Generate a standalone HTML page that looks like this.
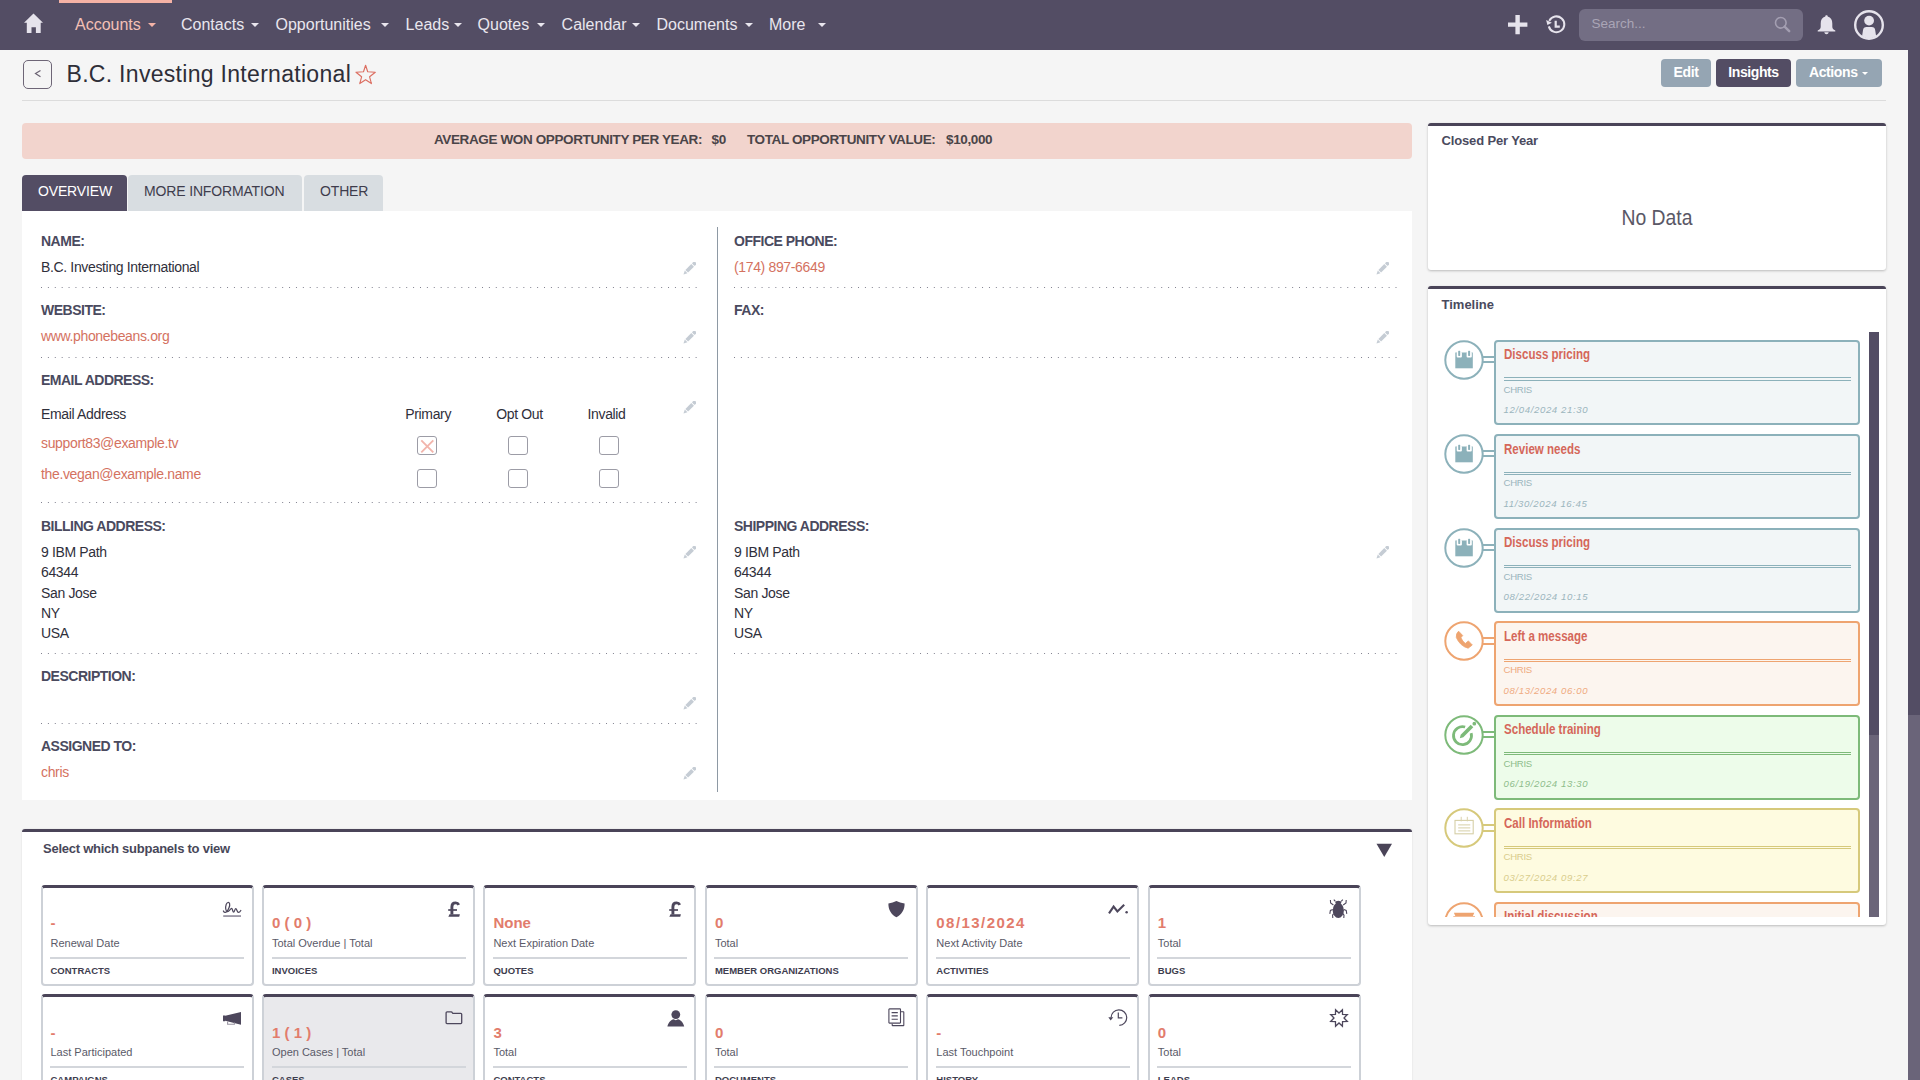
<!DOCTYPE html>
<html><head><meta charset="utf-8">
<style>
*{box-sizing:border-box;margin:0;padding:0}
html,body{width:1920px;height:1080px;overflow:hidden;background:#f5f5f5;font-family:"Liberation Sans",sans-serif;color:#333}
.a{position:absolute}
#nav{left:0;top:0;width:1920px;height:50px;background:#534d64}
.ni{position:absolute;top:15.5px;font-size:16px;color:#e9e6ee;white-space:nowrap;line-height:18px}
.car{position:absolute;top:23px;width:0;height:0;border-left:4px solid transparent;border-right:4px solid transparent;border-top:4px solid #e9e6ee}
#sb{position:absolute;left:1908px;top:0;width:12px;height:1080px;background:#6a6479}
#sbt{position:absolute;left:1908px;top:0;width:12px;height:715px;background:#534d64}
.btn{position:absolute;top:59px;height:28px;border-radius:4px;color:#fff;font-weight:bold;font-size:14px;letter-spacing:-0.4px;line-height:26px;text-align:center}
#hr{left:22px;top:100px;width:1864px;height:1px;background:#dcdcdc}
#stat{left:22px;top:123px;width:1390px;height:36px;background:#f2d4cd;border-radius:4px}
.st{position:absolute;top:9px;font-size:13.5px;letter-spacing:-0.38px;font-weight:bold;color:#4a4448;white-space:nowrap;line-height:16px}
.tab{position:absolute;top:175px;height:36px;border-radius:4px 4px 0 0;background:#d8dde1;color:#3e3c4c;font-size:14px;letter-spacing:-0.15px;line-height:16px;padding-top:8px;white-space:nowrap}
#panel{left:22px;top:211px;width:1390px;height:589px;background:#fff}
.lbl{position:absolute;font-size:14px;letter-spacing:-0.5px;font-weight:bold;color:#4a4a5e;white-space:nowrap;line-height:16px}
.val{position:absolute;font-size:14px;letter-spacing:-0.35px;color:#2f2f3b;white-space:nowrap;line-height:16px}
.lnk{color:#d4725f}
.dot{position:absolute;height:1px;background-image:linear-gradient(to right,#80808e 1px,transparent 1px);background-size:6.9px 1px;background-repeat:repeat-x}
.pen{position:absolute;width:13px;height:13px}
.cb{position:absolute;width:20px;height:19px;border:1px solid #9c9ca6;border-radius:3px;background:#fff}
.rp{position:absolute;background:#fff;border-top:3px solid #4a4458;border-radius:3px;box-shadow:0 1px 2.5px rgba(0,0,0,.24)}
.card{position:absolute;width:213px;height:101px;border:2px solid #cdd1d7;border-top:3px solid #4a4458;border-radius:4px;background:#fff}
.tlt{font-size:14px;font-weight:bold;color:#d5675a;white-space:nowrap;line-height:16px;transform:scaleX(.825);transform-origin:0 0}
.tlu{font-size:9.6px;letter-spacing:-0.3px;white-space:nowrap;line-height:14px}
.tld{font-size:9.6px;letter-spacing:0.62px;font-style:italic;white-space:nowrap;line-height:14px}
.cv{position:absolute;font-size:15px;font-weight:bold;color:#e27c6c;white-space:nowrap;line-height:18px}
.cs{position:absolute;font-size:11px;color:#5a5a68;white-space:nowrap;line-height:14px}
.cc{position:absolute;font-size:9.5px;font-weight:bold;color:#3e3d4e;white-space:nowrap;line-height:12px}
</style></head><body>
<div id="nav" class="a">
  <div class="a" style="left:59px;top:0;width:113px;height:3px;background:#f5b2a5"></div>
  <svg class="a" style="left:24px;top:13px" width="20" height="21" viewBox="0 0 20 21"><path d="M0 9.7 L9.5 0.4 L19 9.7 L16.7 9.7 L16.7 19.9 L11.9 19.9 L11.9 14.3 L7.5 14.3 L7.5 19.9 L2.8 19.9 L2.8 9.7 Z" fill="#e6e3ec"/></svg>
  <div class="ni" id="n1" style="left:75px;color:#f3c0b6">Accounts</div><div class="car" style="left:148px;border-top-color:#f3b3a7"></div>
  <div class="ni" id="n2" style="left:181px">Contacts</div><div class="car" style="left:251px"></div>
  <div class="ni" id="n3" style="left:275.5px">Opportunities</div><div class="car" style="left:381px"></div>
  <div class="ni" id="n4" style="left:405.6px">Leads</div><div class="car" style="left:453.6px"></div>
  <div class="ni" id="n5" style="left:477.6px">Quotes</div><div class="car" style="left:537px"></div>
  <div class="ni" id="n6" style="left:561.6px">Calendar</div><div class="car" style="left:632px"></div>
  <div class="ni" id="n7" style="left:656.5px">Documents</div><div class="car" style="left:745px"></div>
  <div class="ni" id="n8" style="left:769px">More</div><div class="car" style="left:818px"></div>
  <svg class="a" style="left:1508px;top:15px" width="20" height="20" viewBox="0 0 20 20"><path d="M7.4 0 H11.8 V7.4 H19.4 V11.8 H11.8 V19.2 H7.4 V11.8 H0 V7.4 H7.4 Z" fill="#e6e3ec"/></svg>
  <svg class="a" style="left:1540px;top:10px" width="32" height="30" viewBox="0 0 32 30"><path d="M8.81 16.38 A7.9 7.9 0 1 0 9.3 10.9" fill="none" stroke="#e6e3ec" stroke-width="2"/><path d="M6.1 10.1 L11.9 12.8 L7.4 15.1 Z" fill="#e6e3ec"/><path d="M15.7 10.8 V16.6 H19.8" fill="none" stroke="#e6e3ec" stroke-width="2.2"/></svg>
  <div class="a" id="search" style="left:1579px;top:9px;width:224px;height:32px;border-radius:6px;background:#736e84"></div>
  <div class="a" id="stxt" style="left:1591.5px;top:16px;font-size:13.5px;color:#aaa5b6;line-height:16px">Search...</div>
  <svg class="a" style="left:1774px;top:16px" width="18" height="18" viewBox="0 0 18 18"><circle cx="6.8" cy="6.8" r="5.3" fill="none" stroke="#a39eb1" stroke-width="1.6"/><path d="M10.6 10.6 L15.2 15.2" stroke="#a39eb1" stroke-width="2.4" stroke-linecap="round"/></svg>
  <svg class="a" style="left:1817px;top:15px" width="20" height="20" viewBox="0 0 20 20"><path d="M9.5 0.2 C10.3 0.2 10.7 0.8 10.7 1.4 C13.9 2.2 15.3 4.8 15.3 8.6 L15.3 11.5 C15.3 13.6 16.3 14.6 18.3 15.6 L18.3 16.4 L0.7 16.4 L0.7 15.6 C2.7 14.6 3.7 13.6 3.7 11.5 L3.7 8.6 C3.7 4.8 5.1 2.2 8.3 1.4 C8.3 0.8 8.7 0.2 9.5 0.2 Z M7.3 17.3 L11.7 17.3 C11.5 18.5 10.6 19.2 9.5 19.2 C8.4 19.2 7.5 18.5 7.3 17.3 Z" fill="#e6e3ec"/></svg>
  <svg class="a" style="left:1853px;top:9px" width="32" height="32" viewBox="0 0 32 32"><defs><clipPath id="uc"><circle cx="16" cy="16" r="13.2"/></clipPath></defs><circle cx="16" cy="16" r="13.8" fill="none" stroke="#e6e3ec" stroke-width="2.4"/><circle cx="16.1" cy="11.6" r="4.9" fill="#e6e3ec"/><path d="M8.3 32 L10 21.2 Q10.4 18.1 13.5 18.1 H18.7 Q21.8 18.1 22.2 21.2 L23.9 32 Z" fill="#e6e3ec" clip-path="url(#uc)"/></svg>
</div>
<div id="sb"></div><div id="sbt"></div>

<div class="a" id="back" style="left:23px;top:60px;width:29px;height:29px;border:1.3px solid #6e6677;border-radius:5px"></div>
<svg class="a" style="left:34px;top:69px" width="8" height="10" viewBox="0 0 8 10"><path d="M6.5 1.5 L1.5 4.6 L6.5 7.7" fill="none" stroke="#6a6272" stroke-width="1.2"/></svg>
<div class="a" id="title" style="left:66.5px;top:60.7px;letter-spacing:0.3px;font-size:23px;line-height:26px;color:#2e2e38;white-space:nowrap">B.C. Investing International</div>
<svg class="a" style="left:350px;top:64px" width="28" height="22" viewBox="0 0 28 22"><path d="M15.6 1.3 L17.7 7.7 L25.3 8.2 L19.6 12.8 L21.4 19.6 L15.6 15.7 L9.8 19.6 L11.6 12.8 L6 8.2 L13.5 7.7 Z" fill="none" stroke="#dc6f62" stroke-width="1.15" stroke-linejoin="round"/></svg>
<div class="btn" id="b1" style="left:1661px;width:50px;background:#95a5b3">Edit</div>
<div class="btn" id="b2" style="left:1716px;width:75px;background:#534d64">Insights</div>
<div class="btn" id="b3" style="left:1796px;width:86px;background:#95a5b3;text-align:left;padding-left:13px">Actions</div>
<div class="car" style="left:1862px;top:72px;border-left-width:3.5px;border-right-width:3.5px;border-top:3.5px solid #fff"></div>
<div id="hr" class="a"></div>
<div id="stat" class="a">
  <div class="st" id="s1" style="left:412px">AVERAGE WON OPPORTUNITY PER YEAR:</div>
  <div class="st" id="s2" style="left:689.5px">$0</div>
  <div class="st" id="s3" style="left:725px">TOTAL OPPORTUNITY VALUE:</div>
  <div class="st" id="s4" style="left:924px">$10,000</div>
</div>
<div class="tab" id="t1" style="left:22px;width:105px;background:#534d64;color:#fff;padding-left:16px">OVERVIEW</div>
<div class="tab" id="t2" style="left:128px;width:174px;padding-left:16px">MORE INFORMATION</div>
<div class="tab" id="t3" style="left:304px;width:79px;padding-left:16px">OTHER</div>
<!--PANEL--><div id="panel" class="a"></div>
<div class="a" style="left:717px;top:227px;width:1px;height:565px;background:#8e99a4"></div>
<div class="lbl" id=l1 style="left:41px;top:233.05px">NAME:</div>
<div class="val" id=v1 style="left:41px;top:259.15px">B.C. Investing International</div>
<svg class="pen" style="left:682.5px;top:261.8px" viewBox="0 0 13 13"><g transform="rotate(45 6.5 6.5)" fill="#c5ccd4"><rect x="4.6" y="-2.2" width="3.8" height="3.4" rx="0.8"/><rect x="4.6" y="2.1" width="3.8" height="8.3"/><path d="M4.6 11.3 H8.4 L6.5 15 Z"/></g></svg>
<div class="dot" style="left:41px;top:287px;width:660px"></div>
<div class="lbl" id=l2 style="left:41px;top:302.15px">WEBSITE:</div>
<div class="val" id=v2 style="left:41px;top:327.95px"><span class="lnk">www.phonebeans.org</span></div>
<svg class="pen" style="left:682.5px;top:331px" viewBox="0 0 13 13"><g transform="rotate(45 6.5 6.5)" fill="#c5ccd4"><rect x="4.6" y="-2.2" width="3.8" height="3.4" rx="0.8"/><rect x="4.6" y="2.1" width="3.8" height="8.3"/><path d="M4.6 11.3 H8.4 L6.5 15 Z"/></g></svg>
<div class="dot" style="left:41px;top:357px;width:660px"></div>
<div class="lbl" id=l3 style="left:41px;top:371.55px">EMAIL ADDRESS:</div>
<svg class="pen" style="left:682.5px;top:400.5px" viewBox="0 0 13 13"><g transform="rotate(45 6.5 6.5)" fill="#c5ccd4"><rect x="4.6" y="-2.2" width="3.8" height="3.4" rx="0.8"/><rect x="4.6" y="2.1" width="3.8" height="8.3"/><path d="M4.6 11.3 H8.4 L6.5 15 Z"/></g></svg>
<div class="val" id=eh1 style="left:41px;top:406.15px">Email Address</div>
<div class="val" id=eh2 style="left:405.3px;top:406.15px">Primary</div>
<div class="val" id=eh3 style="left:496.2px;top:406.15px">Opt Out</div>
<div class="val" id=eh4 style="left:587.5px;top:406.15px">Invalid</div>
<div class="val" id=e1 style="left:41px;top:434.85px"><span class="lnk">support83@example.tv</span></div>
<div class="val" id=e2 style="left:41px;top:466.45px"><span class="lnk">the.vegan@example.name</span></div>
<div class="cb" style="left:417px;top:436.3px"></div>
<div class="cb" style="left:417px;top:469px"></div>
<div class="cb" style="left:508px;top:436.3px"></div>
<div class="cb" style="left:508px;top:469px"></div>
<div class="cb" style="left:599.2px;top:436.3px"></div>
<div class="cb" style="left:599.2px;top:469px"></div>
<svg class="a" style="left:419.5px;top:439px" width="15" height="15" viewBox="0 0 15 15"><path d="M1.3 1.3 L13.3 13.3 M13.3 1.3 L1.3 13.3" stroke="#f2b5ac" stroke-width="1.9"/></svg>
<div class="dot" style="left:41px;top:502px;width:660px"></div>
<div class="lbl" id=l4 style="left:41px;top:518.15px">BILLING ADDRESS:</div>
<svg class="pen" style="left:682.5px;top:546.3px" viewBox="0 0 13 13"><g transform="rotate(45 6.5 6.5)" fill="#c5ccd4"><rect x="4.6" y="-2.2" width="3.8" height="3.4" rx="0.8"/><rect x="4.6" y="2.1" width="3.8" height="8.3"/><path d="M4.6 11.3 H8.4 L6.5 15 Z"/></g></svg>
<div class="val" id=ba0 style="left:41px;top:544.05px">9 IBM Path</div>
<div class="val" id=sa0 style="left:734px;top:544.05px">9 IBM Path</div>
<div class="val" id=ba1 style="left:41px;top:564.05px">64344</div>
<div class="val" id=sa1 style="left:734px;top:564.05px">64344</div>
<div class="val" id=ba2 style="left:41px;top:584.75px">San Jose</div>
<div class="val" id=sa2 style="left:734px;top:584.75px">San Jose</div>
<div class="val" id=ba3 style="left:41px;top:604.95px">NY</div>
<div class="val" id=sa3 style="left:734px;top:604.95px">NY</div>
<div class="val" id=ba4 style="left:41px;top:624.75px">USA</div>
<div class="val" id=sa4 style="left:734px;top:624.75px">USA</div>
<div class="dot" style="left:41px;top:653px;width:660px"></div>
<div class="lbl" id=l5 style="left:41px;top:667.95px">DESCRIPTION:</div>
<svg class="pen" style="left:682.5px;top:697px" viewBox="0 0 13 13"><g transform="rotate(45 6.5 6.5)" fill="#c5ccd4"><rect x="4.6" y="-2.2" width="3.8" height="3.4" rx="0.8"/><rect x="4.6" y="2.1" width="3.8" height="8.3"/><path d="M4.6 11.3 H8.4 L6.5 15 Z"/></g></svg>
<div class="dot" style="left:41px;top:723px;width:660px"></div>
<div class="lbl" id=l6 style="left:41px;top:738.15px">ASSIGNED TO:</div>
<div class="val" id=v6 style="left:41px;top:763.85px"><span class="lnk">chris</span></div>
<svg class="pen" style="left:682.5px;top:766.5px" viewBox="0 0 13 13"><g transform="rotate(45 6.5 6.5)" fill="#c5ccd4"><rect x="4.6" y="-2.2" width="3.8" height="3.4" rx="0.8"/><rect x="4.6" y="2.1" width="3.8" height="8.3"/><path d="M4.6 11.3 H8.4 L6.5 15 Z"/></g></svg>
<div class="lbl" id=r1 style="left:734px;top:233.05px">OFFICE PHONE:</div>
<div class="val" id=rv1 style="left:734px;top:259.15px"><span class="lnk">(174) 897-6649</span></div>
<svg class="pen" style="left:1375.5px;top:261.8px" viewBox="0 0 13 13"><g transform="rotate(45 6.5 6.5)" fill="#c5ccd4"><rect x="4.6" y="-2.2" width="3.8" height="3.4" rx="0.8"/><rect x="4.6" y="2.1" width="3.8" height="8.3"/><path d="M4.6 11.3 H8.4 L6.5 15 Z"/></g></svg>
<div class="dot" style="left:734px;top:287px;width:663px"></div>
<div class="lbl" id=r2 style="left:734px;top:302.15px">FAX:</div>
<svg class="pen" style="left:1375.5px;top:331px" viewBox="0 0 13 13"><g transform="rotate(45 6.5 6.5)" fill="#c5ccd4"><rect x="4.6" y="-2.2" width="3.8" height="3.4" rx="0.8"/><rect x="4.6" y="2.1" width="3.8" height="8.3"/><path d="M4.6 11.3 H8.4 L6.5 15 Z"/></g></svg>
<div class="dot" style="left:734px;top:357px;width:663px"></div>
<div class="lbl" id=r4 style="left:734px;top:518.15px">SHIPPING ADDRESS:</div>
<svg class="pen" style="left:1375.5px;top:546.3px" viewBox="0 0 13 13"><g transform="rotate(45 6.5 6.5)" fill="#c5ccd4"><rect x="4.6" y="-2.2" width="3.8" height="3.4" rx="0.8"/><rect x="4.6" y="2.1" width="3.8" height="8.3"/><path d="M4.6 11.3 H8.4 L6.5 15 Z"/></g></svg>
<div class="dot" style="left:734px;top:653px;width:663px"></div>
<!--/PANEL-->
<!--SUB-->
<div class="a" style="left:22px;top:829px;width:1390px;height:260px;background:#fff;border-top:3px solid #4a4458;border-radius:3px;box-shadow:0 0 2px rgba(0,0,0,.12)"></div>
<div class="lbl" id="swv" style="left:43px;top:841.4px;font-size:13px;letter-spacing:-0.25px;color:#484759">Select which subpanels to view</div>
<svg class="a" style="left:1376px;top:843px" width="17" height="14" viewBox="0 0 17 14"><path d="M0.5 0.8 H16 L8.25 14 Z" fill="#4a4458"/></svg>
<div class="card" style="left:40.50px;top:885.00px;background:#fff"></div>
<div class="cv" style="left:50.50px;top:914.40px">-</div>
<div class="cs" style="left:50.50px;top:936.19px">Renewal Date</div>
<div class="a" style="left:50.10px;top:957.00px;width:194px;height:2px;background:#d3d6db"></div>
<div class="cc" style="left:50.50px;top:964.71px">CONTRACTS</div>
<svg class="a" style="left:222px;top:900px" width="21" height="18" viewBox="0 0 21 18"><path d="M1.4 11 C2 12.6 3.6 12.8 4.6 11.8 C6.4 10 8.2 5.8 7.6 3.6 C7 1.8 5 2.2 4.2 4.4 C3.2 7.4 3.6 11.2 5.4 11.6 C7 12 8.4 8.4 9.6 8.3 C10.6 8.3 10.6 12.2 11.6 12.2 C12.6 12.2 12.8 8.5 13.8 8.5 C14.8 8.5 15 12.4 16.4 12.4 C17.6 12.4 18.4 11.2 18.8 10.5" fill="none" stroke="#4d475c" stroke-width="1.25" stroke-linecap="round"/><rect x="1.2" y="15.3" width="17.8" height="1.5" fill="#858192"/></svg>
<div class="card" style="left:261.96px;top:885.00px;background:#fff"></div>
<div class="cv" style="left:271.96px;top:914.40px">0 ( 0 )</div>
<div class="cs" style="left:271.96px;top:936.19px">Total Overdue | Total</div>
<div class="a" style="left:271.56px;top:957.00px;width:194px;height:2px;background:#d3d6db"></div>
<div class="cc" style="left:271.96px;top:964.71px">INVOICES</div>
<svg class="a" style="left:446.53999999999996px;top:900px" width="15" height="18" viewBox="0 0 15 18"><path d="M4.9 14.6 V6.8 C4.9 3.9 6.5 2.9 8.6 2.9 C10.2 2.9 11.2 3.6 11.8 4.8" stroke="#4d475c" stroke-width="2.9" fill="none"/><path d="M1.2 10 H10" stroke="#4d475c" stroke-width="1.7"/><path d="M1.3 16.7 L2.5 14.2 H12.9 L12.2 16.7 Z" fill="#4d475c"/></svg>
<div class="card" style="left:483.42px;top:885.00px;background:#fff"></div>
<div class="cv" style="left:493.42px;top:914.40px">None</div>
<div class="cs" style="left:493.42px;top:936.19px">Next Expiration Date</div>
<div class="a" style="left:493.02px;top:957.00px;width:194px;height:2px;background:#d3d6db"></div>
<div class="cc" style="left:493.42px;top:964.71px">QUOTES</div>
<svg class="a" style="left:668px;top:900px" width="15" height="18" viewBox="0 0 15 18"><path d="M4.9 14.6 V6.8 C4.9 3.9 6.5 2.9 8.6 2.9 C10.2 2.9 11.2 3.6 11.8 4.8" stroke="#4d475c" stroke-width="2.9" fill="none"/><path d="M1.2 10 H10" stroke="#4d475c" stroke-width="1.7"/><path d="M1.3 16.7 L2.5 14.2 H12.9 L12.2 16.7 Z" fill="#4d475c"/></svg>
<div class="card" style="left:704.88px;top:885.00px;background:#fff"></div>
<div class="cv" style="left:714.88px;top:914.40px">0</div>
<div class="cs" style="left:714.88px;top:936.19px">Total</div>
<div class="a" style="left:714.48px;top:957.00px;width:194px;height:2px;background:#d3d6db"></div>
<div class="cc" style="left:714.88px;top:964.71px">MEMBER ORGANIZATIONS</div>
<svg class="a" style="left:887.8px;top:901px" width="18" height="17" viewBox="0 0 18 17"><path d="M0.4 2.4 C3.4 2 6 1.2 8.4 0.1 C10.8 1.2 13.4 2 16.6 2.4 C16.8 9 13.4 13.4 8.4 16.3 C3.4 13.4 0.2 9 0.4 2.4 Z" fill="#4d475c"/></svg>
<div class="card" style="left:926.34px;top:885.00px;background:#fff"></div>
<div class="cv" style="left:936.34px;top:914.40px;letter-spacing:1.45px">08/13/2024</div>
<div class="cs" style="left:936.34px;top:936.19px">Next Activity Date</div>
<div class="a" style="left:935.94px;top:957.00px;width:194px;height:2px;background:#d3d6db"></div>
<div class="cc" style="left:936.34px;top:964.71px">ACTIVITIES</div>
<svg class="a" style="left:1108px;top:903.6px" width="21" height="11" viewBox="0 0 21 11"><path d="M1 9.4 L5.6 2.6 L9.4 7.4 L16.2 0.8" fill="none" stroke="#4d475c" stroke-width="2.1" stroke-linejoin="miter"/><circle cx="18.6" cy="8.2" r="1.25" fill="#4d475c"/></svg>
<div class="card" style="left:1147.80px;top:885.00px;background:#fff"></div>
<div class="cv" style="left:1157.80px;top:914.40px">1</div>
<div class="cs" style="left:1157.80px;top:936.19px">Total</div>
<div class="a" style="left:1157.40px;top:957.00px;width:194px;height:2px;background:#d3d6db"></div>
<div class="cc" style="left:1157.80px;top:964.71px">BUGS</div>
<svg class="a" style="left:1329.3px;top:899px" width="19" height="20" viewBox="0 0 19 20"><ellipse cx="9.3" cy="11.4" rx="5.6" ry="7.6" fill="#4d475c"/><ellipse cx="9.3" cy="3.6" rx="3" ry="1.8" fill="#4d475c"/><path d="M6.4 2.4 L4.8 0.6 M12.2 2.4 L13.8 0.6 M4.4 6 L1.6 4 L1.4 1 M14.2 6 L17 4 L17.2 1 M3.8 10.4 L1.4 11.4 L0.8 14.8 M14.8 10.4 L17.2 11.4 L17.8 14.8 M4.6 14.6 L3.6 16.2 L3.8 19 M14 14.6 L15 16.2 L14.8 19" fill="none" stroke="#4d475c" stroke-width="1.1"/></svg>
<div class="card" style="left:40.50px;top:994.30px;background:#fff"></div>
<div class="cv" style="left:50.50px;top:1023.70px">-</div>
<div class="cs" style="left:50.50px;top:1045.49px">Last Participated</div>
<div class="a" style="left:50.10px;top:1066.30px;width:194px;height:2px;background:#d3d6db"></div>
<div class="cc" style="left:50.50px;top:1074.01px">CAMPAIGNS</div>
<svg class="a" style="left:223px;top:1011.6px" width="19" height="14" viewBox="0 0 19 14"><path d="M0 3.4 H2.2 V3.8 L18 0 V12.8 L2.2 8.8 V9.2 H0 Z" fill="#4d475c"/><path d="M4.6 9.4 V12.2 H11.4 V10.6" fill="none" stroke="#9a96a4" stroke-width="1.1"/></svg>
<div class="card" style="left:261.96px;top:994.30px;background:#e9e9ec"></div>
<div class="cv" style="left:271.96px;top:1023.70px">1 ( 1 )</div>
<div class="cs" style="left:271.96px;top:1045.49px">Open Cases | Total</div>
<div class="a" style="left:271.56px;top:1066.30px;width:194px;height:2px;background:#d3d6db"></div>
<div class="cc" style="left:271.96px;top:1074.01px">CASES</div>
<svg class="a" style="left:445.4px;top:1011px" width="18" height="14" viewBox="0 0 18 14"><path d="M1.1 1.8 Q1.1 0.8 2.1 0.8 H6.2 Q6.9 0.8 7.3 1.6 L7.8 2.3 H15.8 Q16.7 2.3 16.7 3.2 V11.8 Q16.7 12.6 15.8 12.6 H2 Q1.1 12.6 1.1 11.8 Z" fill="none" stroke="#4d475c" stroke-width="1.3"/></svg>
<div class="card" style="left:483.42px;top:994.30px;background:#fff"></div>
<div class="cv" style="left:493.42px;top:1023.70px">3</div>
<div class="cs" style="left:493.42px;top:1045.49px">Total</div>
<div class="a" style="left:493.02px;top:1066.30px;width:194px;height:2px;background:#d3d6db"></div>
<div class="cc" style="left:493.42px;top:1074.01px">CONTACTS</div>
<svg class="a" style="left:666.9px;top:1009.6px" width="18" height="18" viewBox="0 0 18 18"><circle cx="8.8" cy="4.6" r="4.4" fill="#4d475c"/><path d="M0.4 16.4 C1.4 12.4 4 9.6 6.6 9.2 L8.8 10.2 L11 9.2 C13.6 9.6 16.2 12.4 17.2 16.4 Z" fill="#4d475c"/></svg>
<div class="card" style="left:704.88px;top:994.30px;background:#fff"></div>
<div class="cv" style="left:714.88px;top:1023.70px">0</div>
<div class="cs" style="left:714.88px;top:1045.49px">Total</div>
<div class="a" style="left:714.48px;top:1066.30px;width:194px;height:2px;background:#d3d6db"></div>
<div class="cc" style="left:714.88px;top:1074.01px">DOCUMENTS</div>
<svg class="a" style="left:887.6px;top:1008.4px" width="18" height="19" viewBox="0 0 18 19"><path d="M12.8 3.8 H15.4 Q15.8 3.8 15.8 4.2 V17.2 Q15.8 17.6 15.4 17.6 H4.6 Q4.2 17.6 4.2 17.2 V15.8" fill="none" stroke="#4d475c" stroke-width="1.1"/><rect x="0.9" y="0.9" width="11.6" height="14.2" rx="0.6" fill="none" stroke="#4d475c" stroke-width="1.1"/><path d="M3.6 4.6 H9.8 M3.6 7.9 H9.8 M3.6 11.2 H9.8" stroke="#4d475c" stroke-width="1.1"/></svg>
<div class="card" style="left:926.34px;top:994.30px;background:#fff"></div>
<div class="cv" style="left:936.34px;top:1023.70px">-</div>
<div class="cs" style="left:936.34px;top:1045.49px">Last Touchpoint</div>
<div class="a" style="left:935.94px;top:1066.30px;width:194px;height:2px;background:#d3d6db"></div>
<div class="cc" style="left:936.34px;top:1074.01px">HISTORY</div>
<svg class="a" style="left:1108px;top:1008.6px" width="21" height="19" viewBox="0 0 21 19"><path d="M3.1 8.6 A7.8 7.8 0 1 1 11.3 16.4" fill="none" stroke="#4d475c" stroke-width="1.2"/><path d="M0.3 8.3 H5.3 L2.7 11.4 Z" fill="#4d475c"/><path d="M10.3 3.6 V8.8 H14.4" fill="none" stroke="#4d475c" stroke-width="1.2"/></svg>
<div class="card" style="left:1147.80px;top:994.30px;background:#fff"></div>
<div class="cv" style="left:1157.80px;top:1023.70px">0</div>
<div class="cs" style="left:1157.80px;top:1045.49px">Total</div>
<div class="a" style="left:1157.40px;top:1066.30px;width:194px;height:2px;background:#d3d6db"></div>
<div class="cc" style="left:1157.80px;top:1074.01px">LEADS</div>
<svg class="a" style="left:1329.4px;top:1008px" width="20" height="20" viewBox="-10 -10 20 20"><path d="M0.00 -5.00 L3.44 -8.31 L3.54 -3.54 L8.31 -3.44 L5.00 0.00 L8.31 3.44 L3.54 3.54 L3.44 8.31 L0.00 5.00 L-3.44 8.31 L-3.54 3.54 L-8.31 3.44 L-5.00 0.00 L-8.31 -3.44 L-3.54 -3.54 L-3.44 -8.31 Z" fill="none" stroke="#4d475c" stroke-width="1.3" stroke-linejoin="miter"/></svg>
<!--/SUB-->
<!--RIGHT-->
<div class="rp" style="left:1428px;top:123px;width:458px;height:147px"></div>
<div class="lbl" id="cpy" style="left:1441.5px;top:133.3px;font-size:13px;letter-spacing:-0.15px;color:#4a4a5e">Closed Per Year</div>
<div class="a" id="nodata" style="left:1428px;width:458px;text-align:center;top:205.05px;font-size:21.5px;line-height:26px;color:#5a5866;transform:scaleX(.9)">No Data</div>
<div class="rp" style="left:1428px;top:286px;width:458px;height:639px"></div>
<div class="lbl" id="tl" style="left:1441.5px;top:296.9px;font-size:13px;letter-spacing:0;color:#4a4a5e">Timeline</div>
<div class="a" style="left:1430px;top:332px;width:454px;height:585px;overflow:hidden">
<svg class="a" style="left:14px;top:8.0px" width="41" height="41" viewBox="0 0 41 41"><circle cx="20" cy="20" r="18.7" fill="#fff" stroke="#8cb1ba" stroke-width="2"/><rect x="11.3" y="12.5" width="17.5" height="15.8" fill="#8cb1ba"/><rect x="12.7" y="12" width="5.2" height="5.4" rx="1" fill="#fff"/><rect x="22.6" y="12" width="5.2" height="5.4" rx="1" fill="#fff"/><rect x="14.2" y="10.8" width="2" height="5.1" rx="0.6" fill="#8cb1ba"/><rect x="24.1" y="10.8" width="2" height="5.1" rx="0.6" fill="#8cb1ba"/></svg>
<div class="a" style="left:53px;top:23.8px;width:12px;height:7.4px;border-top:2px solid #8cb1ba;border-bottom:2px solid #8cb1ba"></div>
<div class="a" style="left:64.40000000000009px;top:8.0px;width:366px;height:85px;border:2px solid #8cb1ba;border-radius:4px;background:#f2f6f7"></div>
<div class="a" style="left:73.79999999999995px;top:45.40px;width:347px;height:3.2px;border-top:1.1px solid #8cb1ba;border-bottom:1.1px solid #8cb1ba"></div>
<div class="a tlt" style="left:73.59999999999991px;top:14.350000000000023px">Discuss pricing</div>
<div class="a tlu" style="left:73.59999999999991px;top:51px;color:#9bb5bd">CHRIS</div>
<div class="a tld" style="left:73.59999999999991px;top:71px;color:#9bb5bd">12/04/2024 21:30</div>
<svg class="a" style="left:14px;top:102.19999999999999px" width="41" height="41" viewBox="0 0 41 41"><circle cx="20" cy="20" r="18.7" fill="#fff" stroke="#8cb1ba" stroke-width="2"/><rect x="11.3" y="12.5" width="17.5" height="15.8" fill="#8cb1ba"/><rect x="12.7" y="12" width="5.2" height="5.4" rx="1" fill="#fff"/><rect x="22.6" y="12" width="5.2" height="5.4" rx="1" fill="#fff"/><rect x="14.2" y="10.8" width="2" height="5.1" rx="0.6" fill="#8cb1ba"/><rect x="24.1" y="10.8" width="2" height="5.1" rx="0.6" fill="#8cb1ba"/></svg>
<div class="a" style="left:53px;top:117.99999999999999px;width:12px;height:7.4px;border-top:2px solid #8cb1ba;border-bottom:2px solid #8cb1ba"></div>
<div class="a" style="left:64.40000000000009px;top:102.19999999999999px;width:366px;height:85px;border:2px solid #8cb1ba;border-radius:4px;background:#f2f6f7"></div>
<div class="a" style="left:73.79999999999995px;top:139.60px;width:347px;height:3.2px;border-top:1.1px solid #8cb1ba;border-bottom:1.1px solid #8cb1ba"></div>
<div class="a tlt" style="left:73.59999999999991px;top:108.55000000000001px">Review needs</div>
<div class="a tlu" style="left:73.59999999999991px;top:144px;color:#9bb5bd">CHRIS</div>
<div class="a tld" style="left:73.59999999999991px;top:165px;color:#9bb5bd">11/30/2024 16:45</div>
<svg class="a" style="left:14px;top:195.79999999999995px" width="41" height="41" viewBox="0 0 41 41"><circle cx="20" cy="20" r="18.7" fill="#fff" stroke="#8cb1ba" stroke-width="2"/><rect x="11.3" y="12.5" width="17.5" height="15.8" fill="#8cb1ba"/><rect x="12.7" y="12" width="5.2" height="5.4" rx="1" fill="#fff"/><rect x="22.6" y="12" width="5.2" height="5.4" rx="1" fill="#fff"/><rect x="14.2" y="10.8" width="2" height="5.1" rx="0.6" fill="#8cb1ba"/><rect x="24.1" y="10.8" width="2" height="5.1" rx="0.6" fill="#8cb1ba"/></svg>
<div class="a" style="left:53px;top:211.59999999999997px;width:12px;height:7.4px;border-top:2px solid #8cb1ba;border-bottom:2px solid #8cb1ba"></div>
<div class="a" style="left:64.40000000000009px;top:195.79999999999995px;width:366px;height:85px;border:2px solid #8cb1ba;border-radius:4px;background:#f2f6f7"></div>
<div class="a" style="left:73.79999999999995px;top:233.20px;width:347px;height:3.2px;border-top:1.1px solid #8cb1ba;border-bottom:1.1px solid #8cb1ba"></div>
<div class="a tlt" style="left:73.59999999999991px;top:202.14999999999998px">Discuss pricing</div>
<div class="a tlu" style="left:73.59999999999991px;top:238px;color:#9bb5bd">CHRIS</div>
<div class="a tld" style="left:73.59999999999991px;top:258px;color:#9bb5bd">08/22/2024 10:15</div>
<svg class="a" style="left:14px;top:289.4px" width="41" height="41" viewBox="0 0 41 41"><circle cx="20" cy="20" r="18.7" fill="#fff" stroke="#eea470" stroke-width="2"/><path d="M14.6 10.2 L18.7 14.5 L16.9 16.8 Q18.6 20.4 21.3 22.5 L24.4 19.9 L28.3 24 L24.1 27.2 Q16 25 12.3 16.5 Q11.8 12.5 14.6 10.2 Z" fill="#eea470" stroke="#eea470" stroke-width="0.8" stroke-linejoin="round"/></svg>
<div class="a" style="left:53px;top:305.2px;width:12px;height:7.4px;border-top:2px solid #eea470;border-bottom:2px solid #eea470"></div>
<div class="a" style="left:64.40000000000009px;top:289.4px;width:366px;height:85px;border:2px solid #eea470;border-radius:4px;background:#fcf5ef"></div>
<div class="a" style="left:73.79999999999995px;top:326.80px;width:347px;height:3.2px;border-top:1.1px solid #eea470;border-bottom:1.1px solid #eea470"></div>
<div class="a tlt" style="left:73.59999999999991px;top:295.75px">Left a message</div>
<div class="a tlu" style="left:73.59999999999991px;top:331px;color:#efaa80">CHRIS</div>
<div class="a tld" style="left:73.59999999999991px;top:352px;color:#efaa80">08/13/2024 06:00</div>
<svg class="a" style="left:14px;top:382.79999999999995px" width="41" height="41" viewBox="0 0 41 41"><circle cx="20" cy="20" r="18.7" fill="#fff" stroke="#7dba79" stroke-width="2"/><path d="M21.13 11.99 A9 9 0 1 0 27.15 18.12" fill="none" stroke="#7dba79" stroke-width="2.8"/><path d="M15.8 23.2 L16.66 19.66 L26.66 9.66 L29.34 12.34 L19.34 22.34 Z" fill="#7dba79"/><circle cx="30.3" cy="8.7" r="1.85" fill="#7dba79"/></svg>
<div class="a" style="left:53px;top:398.59999999999997px;width:12px;height:7.4px;border-top:2px solid #7dba79;border-bottom:2px solid #7dba79"></div>
<div class="a" style="left:64.40000000000009px;top:382.79999999999995px;width:366px;height:85px;border:2px solid #7dba79;border-radius:4px;background:#edfcea"></div>
<div class="a" style="left:73.79999999999995px;top:420.20px;width:347px;height:3.2px;border-top:1.1px solid #7dba79;border-bottom:1.1px solid #7dba79"></div>
<div class="a tlt" style="left:73.59999999999991px;top:389.15px">Schedule training</div>
<div class="a tlu" style="left:73.59999999999991px;top:425px;color:#8dbd8a">CHRIS</div>
<div class="a tld" style="left:73.59999999999991px;top:445px;color:#8dbd8a">06/19/2024 13:30</div>
<svg class="a" style="left:14px;top:476.4px" width="41" height="41" viewBox="0 0 41 41"><circle cx="20" cy="20" r="18.7" fill="#fff" stroke="#d6c97b" stroke-width="2"/><rect x="11" y="12.4" width="18.2" height="13.4" fill="none" stroke="#d6cfa6" stroke-width="1.1"/><path d="M14.2 16.9 H26.3 M14.2 19.9 H26.3 M14.2 22.9 H26.3" stroke="#d6cfa6" stroke-width="1"/><path d="M17.2 8.8 V13.4 M23.3 8.8 V13.4" stroke="#d9d0ac" stroke-width="1"/></svg>
<div class="a" style="left:53px;top:492.2px;width:12px;height:7.4px;border-top:2px solid #d6c97b;border-bottom:2px solid #d6c97b"></div>
<div class="a" style="left:64.40000000000009px;top:476.4px;width:366px;height:85px;border:2px solid #d6c97b;border-radius:4px;background:#fefbe0"></div>
<div class="a" style="left:73.79999999999995px;top:513.80px;width:347px;height:3.2px;border-top:1.1px solid #d6c97b;border-bottom:1.1px solid #d6c97b"></div>
<div class="a tlt" style="left:73.59999999999991px;top:482.75px">Call Information</div>
<div class="a tlu" style="left:73.59999999999991px;top:518px;color:#d9cd8c">CHRIS</div>
<div class="a tld" style="left:73.59999999999991px;top:539px;color:#d9cd8c">03/27/2024 09:27</div>
<svg class="a" style="left:14px;top:569.6px" width="41" height="41" viewBox="0 0 41 41"><circle cx="20" cy="20" r="18.7" fill="#fff" stroke="#eea470" stroke-width="2"/><path d="M9.9 10.7 H30.3 L28.9 14 H11.3 Z" fill="#eea470"/><rect x="10" y="15" width="20.3" height="12" fill="none" stroke="#eea470" stroke-width="1.4"/></svg>
<div class="a" style="left:53px;top:585.4px;width:12px;height:7.4px;border-top:2px solid #eea470;border-bottom:2px solid #eea470"></div>
<div class="a" style="left:64.40000000000009px;top:569.6px;width:366px;height:85px;border:2px solid #eea470;border-radius:4px;background:#fcf5ef"></div>
<div class="a" style="left:73.79999999999995px;top:607.00px;width:347px;height:3.2px;border-top:1.1px solid #eea470;border-bottom:1.1px solid #eea470"></div>
<div class="a tlt" style="left:73.59999999999991px;top:575.95px">Initial discussion</div>
<div class="a tlu" style="left:73.59999999999991px;top:612px;color:#efaa80">CHRIS</div>
<div class="a tld" style="left:73.59999999999991px;top:632px;color:#efaa80">03/01/2024 10:00</div>
<div class="a" style="left:439px;top:0;width:10px;height:585px;background:#6b6579"></div>
<div class="a" style="left:439px;top:0;width:10px;height:402.5px;background:#534d64"></div>
</div>
<!--/RIGHT-->
</body></html>
